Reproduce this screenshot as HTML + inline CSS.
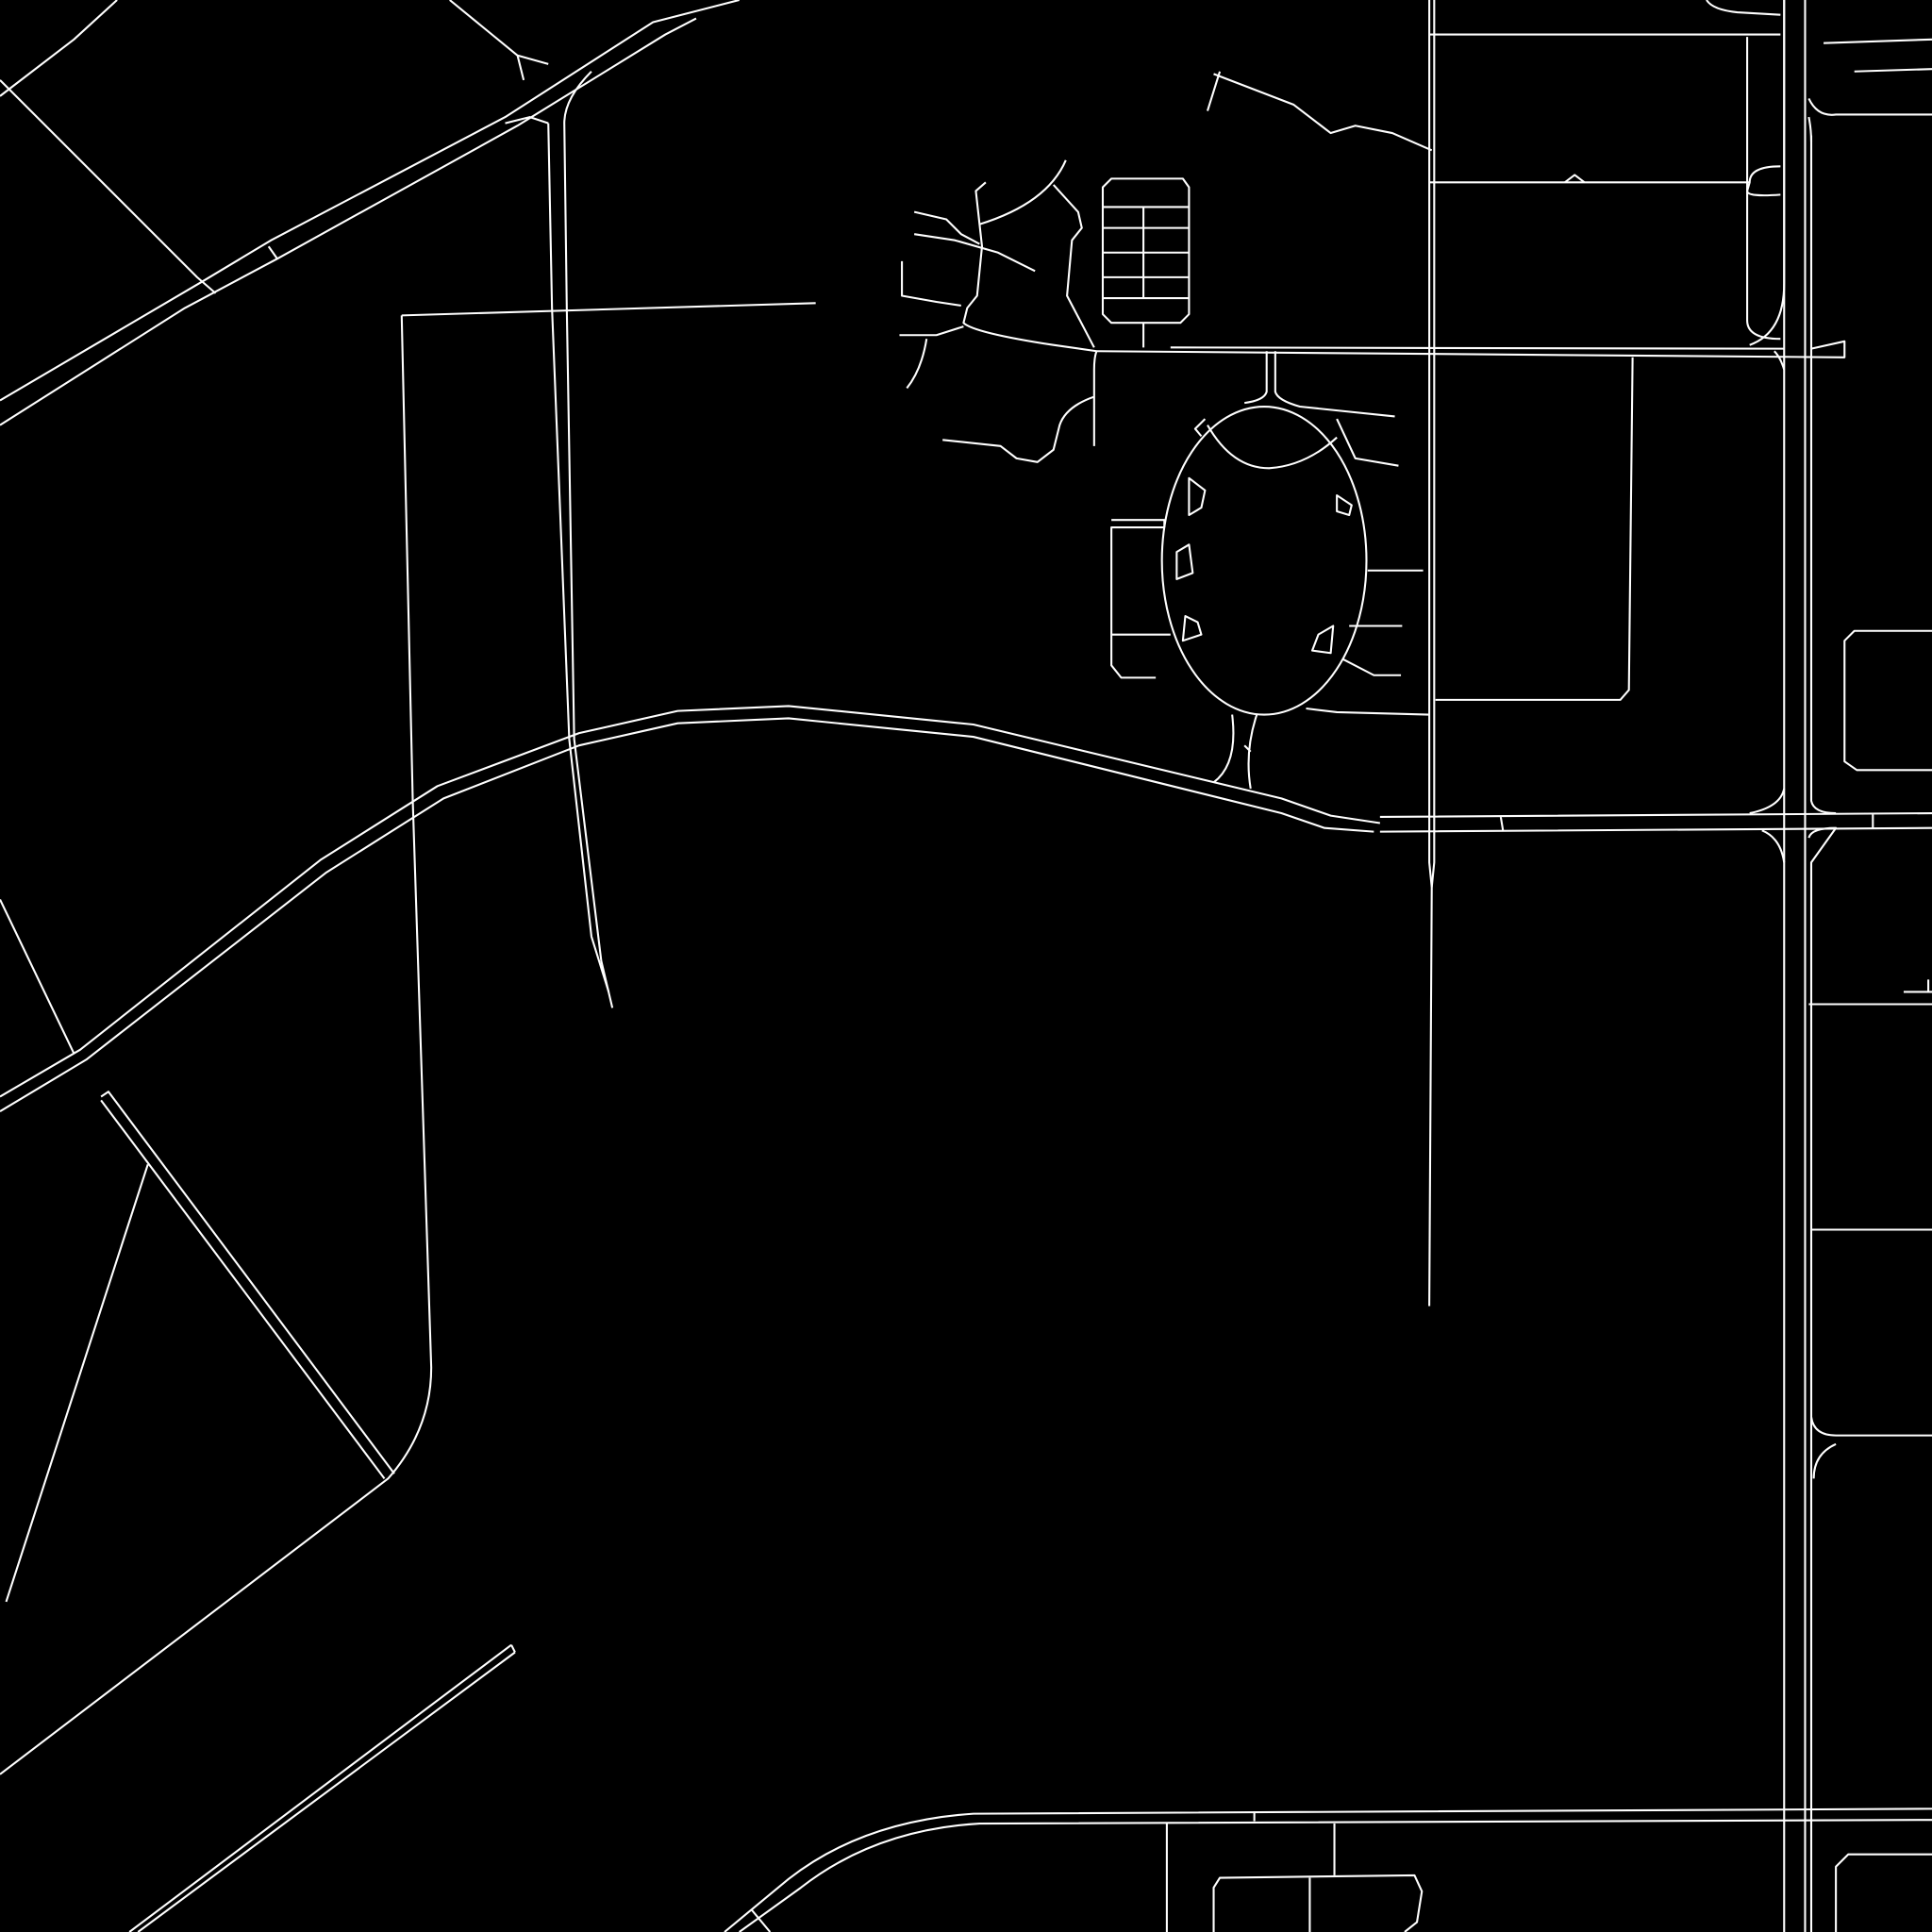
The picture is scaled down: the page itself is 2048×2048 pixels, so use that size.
<!DOCTYPE html>
<html><head><meta charset="utf-8"><style>
html,body{margin:0;padding:0;background:#000;width:2048px;height:2048px;overflow:hidden}
svg{display:block}
</style></head><body>
<svg width="2048" height="2048" viewBox="0 0 1568 1568" xmlns="http://www.w3.org/2000/svg">
<g fill="none" stroke="#fff" stroke-width="1.6" stroke-linejoin="round">
<!-- top-left -->
<path d="M95,0 L60,32 L0,78"/>
<path d="M0,65 L160,225 L175,238"/>
<path d="M0,325 L165,228 L220,195 L410,95 L530,18 L600,0"/>
<path d="M0,345 L150,250 L225,210 L420,102 L540,28 L565,15"/>
<path d="M218,200 L225,210"/>
<path d="M365,0 L420,45 L425,65 M420,45 L445,52"/>
<path d="M480,58 Q458,80 458,100 L460,250 L466,600 L488,780 L497,818"/>
<path d="M445,100 L448,250 L462,600 L480,760 L494,805"/>
<path d="M410,100 L430,95 L445,100"/>
<path d="M326,256 L662,246"/>
<path d="M326,256 L335,650 L350,1110 Q350,1160 315,1200 L0,1440"/>
<!-- curved double road -->
<path d="M0,890 L65,852 L260,698 L355,638 L470,595 L550,577 L640,573 L790,588 L1040,648 L1080,662 L1120,668"/>
<path d="M0,902 L70,860 L265,708 L360,648 L470,605 L550,587 L640,583 L790,598 L1040,660 L1075,672 L1115,675"/>
<path d="M0,730 L60,855"/>
<path d="M82,890 L88,886 L320,1196"/>
<path d="M82,893 L312,1200"/>
<path d="M120,945 L5,1300"/>
<path d="M415,1335 L105,1568 M418,1341 L112,1568 M415,1335 L418,1341"/>
<!-- bottom road -->
<path d="M588,1568 L640,1525 Q700,1478 790,1472 L1568,1468"/>
<path d="M600,1568 L650,1532 Q710,1485 795,1480 L1568,1477"/>
<path d="M610,1550 L625,1568"/>
<path d="M947,1480 L947,1568 M1083,1480 L1083,1522 M1018,1470 L1018,1478"/>
<path d="M985,1568 L985,1532 L990,1524 L1148,1522 L1154,1535 L1150,1560 L1140,1568"/>
<path d="M1063,1524 L1063,1568"/>
<!-- verticals -->
<path d="M1160,0 L1160,700 L1162,720 L1160,1060"/>
<path d="M1164,0 L1164,700 L1162,720"/>
<path d="M1448,0 L1448,230 Q1448,270 1420,280 M1448,300 Q1445,290 1440,285"/>
<path d="M1448,0 L1448,1568 M1465,0 L1465,1568 M1470,110 L1470,650 Q1472,660 1490,660 M1468,680 Q1470,672 1490,672 L1470,700 L1470,1568"/>
<path d="M1448,640 Q1445,655 1420,660 M1448,700 Q1445,680 1430,674"/>
<path d="M1470,1150 Q1472,1165 1490,1165 L1568,1165 M1490,1172 Q1472,1180 1472,1200"/>
<!-- horizontals -->
<path d="M1120,663 L1568,660 M1120,675 L1568,672 M1218,663 L1220,675 M1520,660 L1520,672"/>
<path d="M1160,28 L1445,28 M1160,148 L1420,148 L1418,155 Q1418,160 1445,158 M1420,148 Q1420,135 1445,135"/>
<path d="M1270,148 L1278,142 L1286,148"/>
<path d="M1418,30 L1418,260 Q1418,275 1445,275 M1385,0 Q1390,8 1410,10 L1445,12"/>
<path d="M1480,35 L1568,32 M1505,58 L1568,56 M1468,80 Q1475,95 1490,93 L1568,93 M1468,95 Q1470,105 1470,115"/>
<path d="M890,285 L1497,290 L1497,277 L1470,283 M950,282 L1448,283"/>
<path d="M1325,290 L1322,560 L1315,568 L1165,568"/>
<path d="M1468,815 L1568,815 M1470,998 L1568,998 M1545,805 L1568,805 M1565,795 L1565,805"/>
<path d="M1568,512 L1505,512 L1497,520 L1497,618 L1507,625 L1568,625"/>
<path d="M1568,1505 L1500,1505 L1490,1515 L1490,1568"/>
<!-- ellipse area -->
<ellipse cx="1026" cy="455" rx="83" ry="125"/>
<path d="M1028,285 L1028,318 Q1026,325 1010,327 M1035,285 L1035,318 Q1037,325 1055,330 L1132,338"/>
<path d="M980,345 Q1000,380 1030,380 Q1060,378 1085,355"/>
<path d="M978,340 L970,348 L975,354 M1085,340 L1100,372 L1135,378"/>
<path d="M1110,463 L1155,463 M1095,508 L1138,508 M1090,535 L1115,548 L1137,548"/>
<path d="M1060,575 L1085,578 L1160,580"/>
<path d="M1000,580 Q1005,620 985,635 M1020,580 Q1010,610 1015,640 M1010,605 L1015,610"/>
<path d="M965,388 L978,398 L975,412 L965,418 Z M955,448 L965,442 L968,465 L955,470 Z M962,500 L972,505 L975,515 L960,520 Z M1085,402 L1097,410 L1095,418 L1085,415 Z M1070,515 L1082,508 L1080,530 L1065,528 Z"/>
<path d="M945,428 L902,428 L902,540 L910,550 L938,550 M902,422 L945,422 L945,428"/>
<path d="M902,515 L950,515"/>
<!-- grid block -->
<path d="M902,145 L960,145 L965,152 L965,255 L958,262 L902,262 L895,255 L895,152 Z"/>
<path d="M895,168 L965,168 M895,185 L965,185 M895,205 L965,205 M895,225 L965,225 M895,242 L965,242 M928,168 L928,242 M928,262 L928,282"/>
<!-- paths NW of grid -->
<path d="M865,130 Q850,165 795,182 L792,155 L800,148 M795,182 L797,200 L793,240 L785,250 L782,262 Q790,270 855,280 L890,285"/>
<path d="M855,150 L875,172 L878,185 L870,195 L866,240 L888,282"/>
<path d="M742,172 L768,178 L780,190 L795,198 M742,190 L775,195 L810,205 L840,220"/>
<path d="M732,212 L732,240 L760,245 L780,248"/>
<path d="M730,272 L760,272 L782,265 M752,275 Q748,300 736,315"/>
<path d="M890,285 Q888,290 888,300 L888,362 M888,322 Q865,330 860,345 L855,365 L842,375 L825,372 L812,362 L765,357"/>
<path d="M990,58 L980,90 M985,60 L1050,85 L1080,108 L1100,102 L1130,108 L1162,122"/>
</g>
</svg>
</body></html>
